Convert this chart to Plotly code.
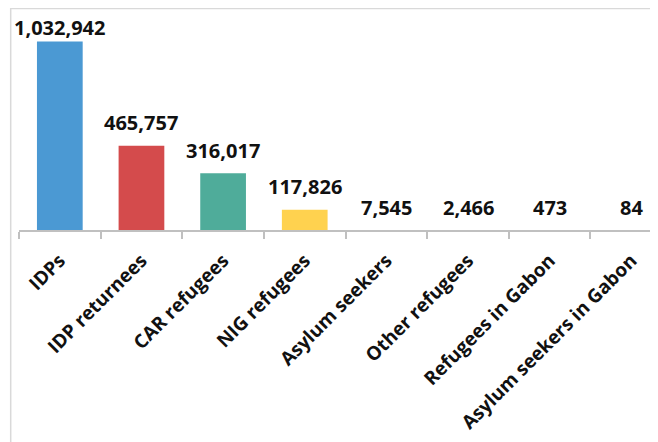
import plotly.graph_objects as go

categories = ["IDPs", "IDP returnees", "CAR refugees", "NIG refugees",
              "Asylum seekers", "Other refugees", "Refugees in Gabon",
              "Asylum seekers in Gabon"]
values = [1032942, 465757, 316017, 117826, 7545, 2466, 473, 84]
bar_colors = ["#4B99D3", "#D44B4C", "#4FAC9A", "#FFD24F",
              "#4B99D3", "#4B99D3", "#4B99D3", "#4B99D3"]
value_labels = [f"{v:,}" for v in values]

FONT = "Open Sans"
TEXT = "#111111"

fig = go.Figure(go.Bar(
    x=categories,
    y=values,
    marker=dict(color=bar_colors, line=dict(width=0)),
    width=0.56,
    cliponaxis=True,
))

# the page body adds an 8px offset, so layout is designed in a 650x434 box
OFF = 8
W, H = 658 - OFF, 442 - OFF
plot_left, plot_top, plot_bottom_y = 19.3 - OFF, 20 - OFF, 230 - OFF
plot_h = plot_bottom_y - plot_top
cat_w = 81.6
x_end = -0.5 + (W - plot_left) / cat_w
px_per_unit = 190.0 / 1032942
y_min = 1.5 / px_per_unit
y_max = y_min + plot_h / px_per_unit

# value labels: centred ~23px above bar top, pushed down if they would leave the frame
label_gap = 23
label_min_center = 27.5 - OFF
annotations = []
for cat, v, lab in zip(categories, values, value_labels):
    yv = max(v, y_min)
    top_px = plot_bottom_y - (yv - y_min) * px_per_unit
    shift = min(label_gap, top_px - label_min_center)
    annotations.append(dict(
        x=cat, y=yv, xref="x", yref="y", text=lab, showarrow=False,
        yanchor="middle", xanchor="center", yshift=shift,
        font=dict(family=FONT, size=20, color=TEXT, weight="bold"),
    ))

fig.update_layout(
    width=W, height=H,
    margin=dict(l=plot_left, r=0, t=plot_top, b=H - plot_bottom_y, pad=0, autoexpand=False),
    paper_bgcolor="white",
    plot_bgcolor="white",
    showlegend=False,
    xaxis=dict(
        type="category",
        automargin=False,
        range=[-0.5, x_end],
        showline=True, linecolor="#C0C0C0", linewidth=2,
        ticks="outside", tickson="boundaries", ticklen=7, tickwidth=1.5, tickcolor="#C0C0C0",
        tickangle=-45,
        ticklabelstandoff=10,
        tickfont=dict(family=FONT, size=19, color=TEXT, weight="bold"),
        showgrid=False, zeroline=False,
    ),
    yaxis=dict(
        range=[y_min, y_max],
        visible=False,
        automargin=False,
        showgrid=False, zeroline=False,
    ),
    annotations=annotations,
    shapes=[dict(
        type="rect", xref="paper", yref="paper",
        x0=(11 - OFF - plot_left) / (W - plot_left), x1=1.2,
        y0=-1.5, y1=1 + (plot_top - (8.5 - OFF)) / plot_h,
        line=dict(color="#D9D9D9", width=1.5), fillcolor="rgba(0,0,0,0)", layer="below",
    )],
)

fig.write_html("out.html")
